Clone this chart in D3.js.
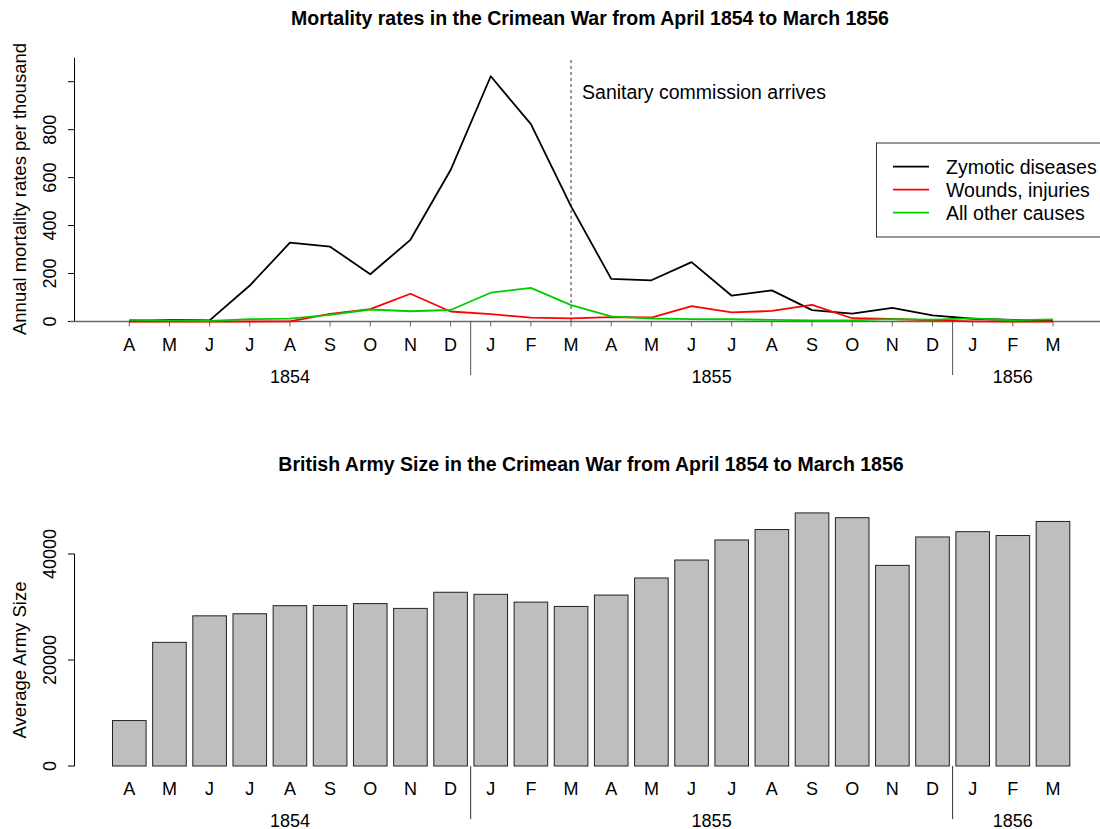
<!DOCTYPE html>
<html>
<head>
<meta charset="utf-8">
<script src="https://cdn.jsdelivr.net/npm/d3@7"></script>
<style>
  html, body { margin: 0; padding: 0; background: #fff; }
  svg { display: block; font-family: "Liberation Sans", Arial, Helvetica, sans-serif; }
</style>
</head>
<body>
<svg id="chart" width="1100" height="829"></svg>
<script>
// Nightingale's Crimean War data, April 1854 - March 1856
const monthLabels = ["A","M","J","J","A","S","O","N","D","J","F","M","A","M","J","J","A","S","O","N","D","J","F","M"];
const years = [
  { label: "1854", from: 0, to: 8 },
  { label: "1855", from: 9, to: 20 },
  { label: "1856", from: 21, to: 23 }
];
// annual mortality rates per thousand
const zymotic = [1.4,6.2,4.7,150.0,328.5,312.2,197.0,340.6,631.5,1022.8,822.8,480.3,177.5,171.8,247.6,107.5,129.9,47.5,32.8,56.4,25.3,11.4,6.6,3.9];
const wounds  = [0.0,0.0,0.0,0.0,0.4,32.1,51.7,115.8,41.7,30.7,16.3,12.8,17.9,16.6,64.5,37.7,44.1,69.4,13.6,10.5,5.0,0.5,0.0,0.0];
const other   = [7.0,4.6,2.5,9.6,11.9,27.7,50.1,42.8,48.0,120.0,140.1,68.6,21.2,12.5,9.6,9.3,6.7,5.0,4.6,10.1,7.8,13.0,5.2,9.1];
// average army size
const army = [8571,23333,28333,28722,30246,30290,30643,29736,32779,32393,30919,30107,32252,35473,38863,42647,44614,47751,46852,37853,43217,44212,43485,46140];
const rateTicks = [0,200,400,600,800,1000];
const rateTickLabels = ["0","200","400","600","800",""];
const armyTicks = [0,20000,40000];
const commissionIndex = 11;

const FS_TITLE = 19.5, FS_LABEL = 18.5, FS_TICK = 18, FS_TEXT = 19.5;

const svg = d3.select("#chart");
const x = d3.scaleLinear().domain([0, 23]).range([129.3, 1053]);
const step = x(1) - x(0);

// ---------- upper panel: mortality rates ----------
const yTop = d3.scaleLinear().domain([0, 1000]).range([321.5, 81.7]);
const upper = svg.append("g");

upper.append("text")
  .attr("x", 590).attr("y", 25)
  .attr("text-anchor", "middle")
  .attr("font-weight", "bold").attr("font-size", FS_TITLE)
  .text("Mortality rates in the Crimean War from April 1854 to March 1856");

// y axis
upper.append("line")
  .attr("x1", 74.5).attr("x2", 74.5)
  .attr("y1", yTop(0)).attr("y2", yTop(1100))
  .attr("stroke", "#000");
upper.selectAll(".ytick").data(rateTicks).enter().append("line")
  .attr("x1", 68).attr("x2", 74.5)
  .attr("y1", d => yTop(d)).attr("y2", d => yTop(d))
  .attr("stroke", "#000");
upper.selectAll(".ylab").data(rateTicks).enter().append("text")
  .attr("transform", d => `translate(56,${yTop(d)}) rotate(-90)`)
  .attr("text-anchor", "middle")
  .attr("font-size", FS_TICK)
  .text((d, i) => rateTickLabels[i]);
upper.append("text")
  .attr("transform", `translate(26,189) rotate(-90)`)
  .attr("text-anchor", "middle")
  .attr("font-size", FS_LABEL)
  .text("Annual mortality rates per thousand");

// x baseline and month ticks
upper.append("line")
  .attr("x1", 70).attr("x2", 1100)
  .attr("y1", yTop(0)).attr("y2", yTop(0))
  .attr("stroke", "#666").attr("stroke-width", 1.3);
upper.selectAll(".xtick").data(monthLabels).enter().append("line")
  .attr("x1", (d, i) => x(i)).attr("x2", (d, i) => x(i))
  .attr("y1", yTop(0)).attr("y2", yTop(0) + 5)
  .attr("stroke", "#666");
upper.selectAll(".mlab").data(monthLabels).enter().append("text")
  .attr("x", (d, i) => x(i)).attr("y", 351)
  .attr("text-anchor", "middle").attr("font-size", FS_TICK)
  .text(d => d);
upper.selectAll(".yearlab").data(years).enter().append("text")
  .attr("x", d => (x(d.from) + x(d.to)) / 2).attr("y", 383)
  .attr("text-anchor", "middle").attr("font-size", FS_TICK)
  .text(d => d.label);
upper.selectAll(".ysep").data(years.slice(1)).enter().append("line")
  .attr("x1", d => x(d.from) - step / 2).attr("x2", d => x(d.from) - step / 2)
  .attr("y1", yTop(0)).attr("y2", 375)
  .attr("stroke", "#555");

// sanitary commission marker
upper.append("line")
  .attr("x1", x(commissionIndex)).attr("x2", x(commissionIndex))
  .attr("y1", 60).attr("y2", yTop(0))
  .attr("stroke", "#555").attr("stroke-dasharray", "3,3").attr("stroke-width", 1.2);
upper.append("text")
  .attr("x", x(commissionIndex) + 11).attr("y", 99)
  .attr("font-size", FS_TEXT)
  .text("Sanitary commission arrives");

// series lines
const line = d3.line().x((d, i) => x(i)).y(d => yTop(d));
const series = [
  { name: "Zymotic diseases", values: zymotic, color: "#000000" },
  { name: "Wounds, injuries", values: wounds, color: "#ff0000" },
  { name: "All other causes", values: other, color: "#00cd00" }
];
upper.selectAll(".series").data(series).enter().append("path")
  .attr("d", d => line(d.values))
  .attr("fill", "none")
  .attr("stroke", d => d.color)
  .attr("stroke-width", 1.8)
  .attr("stroke-linejoin", "round");

// legend
const legend = upper.append("g");
legend.append("rect")
  .attr("x", 876.5).attr("y", 143).attr("width", 240).attr("height", 94)
  .attr("fill", "#fff").attr("stroke", "#333");
legend.selectAll(".lline").data(series).enter().append("line")
  .attr("x1", 893).attr("x2", 929)
  .attr("y1", (d, i) => 166.7 + i * 23).attr("y2", (d, i) => 166.7 + i * 23)
  .attr("stroke", d => d.color).attr("stroke-width", 1.8);
legend.selectAll(".ltext").data(series).enter().append("text")
  .attr("x", 946).attr("y", (d, i) => 174 + i * 23)
  .attr("font-size", FS_TEXT)
  .text(d => d.name);

// ---------- lower panel: army size ----------
const yBot = d3.scaleLinear().domain([0, 40000]).range([766, 554]);
const lower = svg.append("g");

lower.append("text")
  .attr("x", 591).attr("y", 471)
  .attr("text-anchor", "middle")
  .attr("font-weight", "bold").attr("font-size", FS_TITLE)
  .text("British Army Size in the Crimean War from April 1854 to March 1856");

lower.append("line")
  .attr("x1", 74.5).attr("x2", 74.5)
  .attr("y1", yBot(0)).attr("y2", yBot(40000))
  .attr("stroke", "#000");
lower.selectAll(".ytick").data(armyTicks).enter().append("line")
  .attr("x1", 68).attr("x2", 74.5)
  .attr("y1", d => yBot(d)).attr("y2", d => yBot(d))
  .attr("stroke", "#000");
lower.selectAll(".ylab").data(armyTicks).enter().append("text")
  .attr("transform", d => `translate(56,${yBot(d)}) rotate(-90)`)
  .attr("text-anchor", "middle")
  .attr("font-size", FS_TICK)
  .text(d => d);
lower.append("text")
  .attr("transform", `translate(26,660) rotate(-90)`)
  .attr("text-anchor", "middle")
  .attr("font-size", FS_LABEL)
  .text("Average Army Size");

const barW = 33.6;
lower.selectAll(".bar").data(army).enter().append("rect")
  .attr("x", (d, i) => x(i) - barW / 2)
  .attr("y", d => yBot(d))
  .attr("width", barW)
  .attr("height", d => yBot(0) - yBot(d))
  .attr("fill", "#bebebe")
  .attr("stroke", "#222").attr("stroke-width", 1);

lower.selectAll(".mlab").data(monthLabels).enter().append("text")
  .attr("x", (d, i) => x(i)).attr("y", 795)
  .attr("text-anchor", "middle").attr("font-size", FS_TICK)
  .text(d => d);
lower.selectAll(".yearlab").data(years).enter().append("text")
  .attr("x", d => (x(d.from) + x(d.to)) / 2).attr("y", 826.5)
  .attr("text-anchor", "middle").attr("font-size", FS_TICK)
  .text(d => d.label);
lower.selectAll(".ysep").data(years.slice(1)).enter().append("line")
  .attr("x1", d => x(d.from) - step / 2).attr("x2", d => x(d.from) - step / 2)
  .attr("y1", yBot(0)).attr("y2", 819)
  .attr("stroke", "#333");
</script>
</body>
</html>
